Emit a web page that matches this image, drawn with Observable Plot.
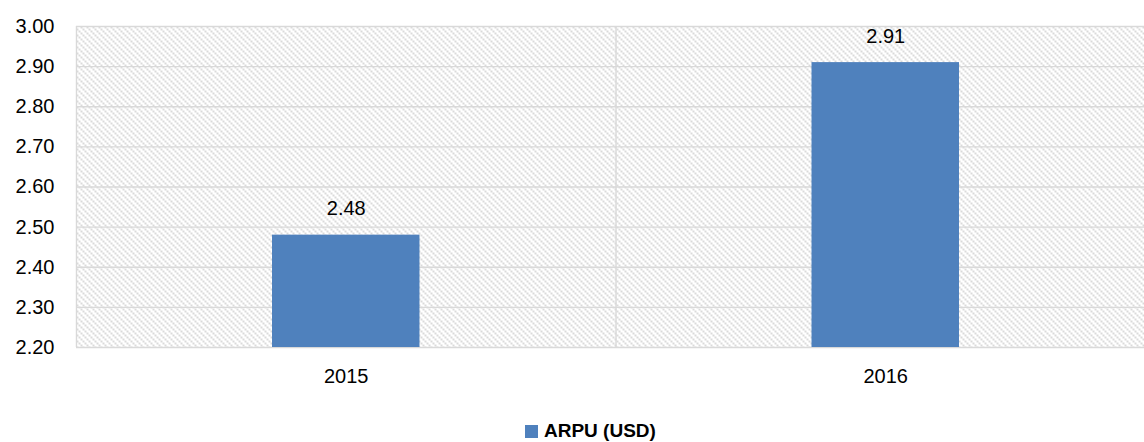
<!DOCTYPE html>
<html>
<head>
<meta charset="utf-8">
<script src="https://cdn.jsdelivr.net/npm/d3@7"></script>
<script src="https://cdn.jsdelivr.net/npm/@observablehq/plot@0.6"></script>
<style>
  html, body { margin: 0; padding: 0; background: #fff; overflow: hidden; }
  #wrap { position: relative; width: 1144px; height: 442px; overflow: hidden; font-family: "Liberation Sans", Arial, sans-serif; }
  #wrap svg { overflow: hidden; display: block; }
  #legend { position: absolute; left: 0; top: 400px; width: 1144px; height: 42px; }
  #legend .sw { position: absolute; left: 525px; top: 25px; width: 13px; height: 13px; background: #4f81bd; }
  #legend .lb { position: absolute; left: 544px; top: 20px; font-size: 19px; font-weight: bold; color: #000; line-height: 22px; white-space: nowrap; }
</style>
</head>
<body>
<div id="wrap"></div>
<script>
// Data
const years = ["2015", "2016"];
const arpu = [2.48, 2.91];
const yTicks = [2.2, 2.3, 2.4, 2.5, 2.6, 2.7, 2.8, 2.9, 3.0];
const seriesName = "ARPU (USD)";

const data = years.map((y, i) => ({year: y, idx: i, value: arpu[i]}));
const bounds = years.map((_, i) => i).concat([years.length]);
const centers = years.map((_, i) => i + 0.5);

const grid = "#d9d9d9";
const barColor = "#4f81bd";
const font = "Liberation Sans, Arial, sans-serif";

const chart = Plot.plot({
  width: 1144,
  height: 400,
  marginTop: 26,
  marginBottom: 53,
  marginLeft: 76,
  marginRight: 0,
  style: {fontFamily: font, fontSize: "20px", color: "#000", background: "#fff"},
  x: {domain: [0, years.length], range: [76, 1155]},
  y: {domain: [2.2, 3.0]},
  marks: [
    Plot.frame({fill: "url(#hatch)", stroke: null}),
    Plot.ruleY(yTicks, {stroke: grid, strokeWidth: 1.4}),
    Plot.ruleX(bounds, {stroke: grid, strokeWidth: 1.4}),
    Plot.rectY(data, {
      x1: d => d.idx, x2: d => d.idx + 1,
      y1: 2.2, y2: "value",
      insetLeft: 196, insetRight: 196,
      fill: barColor
    }),
    Plot.text(data, {
      x: d => d.idx + 0.5, y: "value",
      text: d => d.value.toFixed(2),
      lineAnchor: "bottom", dy: -20,
      fontSize: 20, fill: "#000"
    }),
    Plot.axisY({
      ticks: yTicks, tickFormat: d => d.toFixed(2),
      tickSize: 0, tickPadding: 22, label: null, fontSize: 20
    }),
    Plot.axisX({
      ticks: centers, tickFormat: d => years[Math.floor(d)],
      tickSize: 0, tickPadding: 21, label: null, fontSize: 20
    })
  ]
});

// hatch pattern definition
const svgNS = "http://www.w3.org/2000/svg";
const defs = document.createElementNS(svgNS, "defs");
const pat = document.createElementNS(svgNS, "pattern");
pat.setAttribute("id", "hatch");
pat.setAttribute("patternUnits", "userSpaceOnUse");
pat.setAttribute("width", "6");
pat.setAttribute("height", "6");
[[0, 0], [2, 2], [4, 4]].forEach(([px, py]) => {
  const r = document.createElementNS(svgNS, "rect");
  r.setAttribute("x", px); r.setAttribute("y", py);
  r.setAttribute("width", 2); r.setAttribute("height", 2);
  r.setAttribute("fill", "#dadada");
  pat.appendChild(r);
});
defs.appendChild(pat);
chart.insertBefore(defs, chart.firstChild);

const wrap = document.getElementById("wrap");
wrap.appendChild(chart);

const legend = document.createElement("div");
legend.id = "legend";
legend.innerHTML = '<div class="sw"></div><div class="lb"></div>';
legend.querySelector(".lb").textContent = seriesName;
wrap.appendChild(legend);
</script>
</body>
</html>
